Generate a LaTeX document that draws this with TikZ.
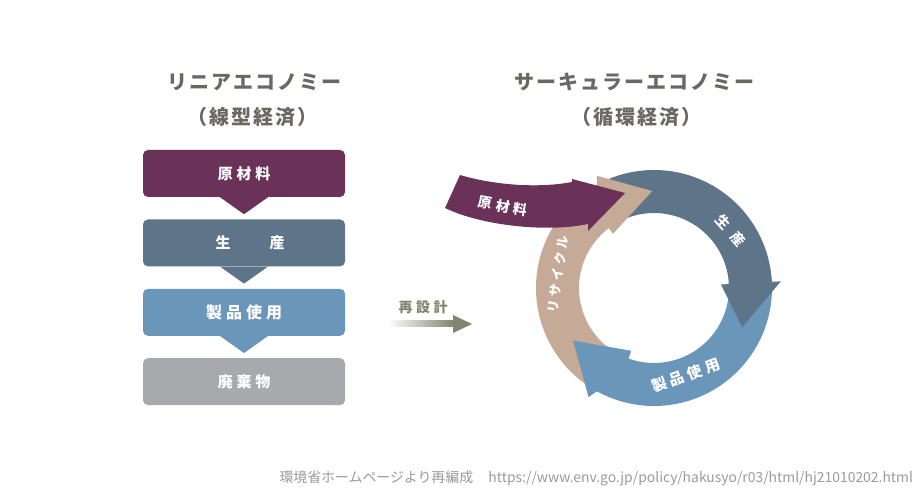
\documentclass[tikz,border=0pt]{standalone}
\usepackage{fontspec}
\setmainfont{Noto Sans CJK JP}
\newfontfamily\jpwide[LetterSpace=25]{Noto Sans CJK JP}
\newfontfamily\jptitle[LetterSpace=10]{Noto Sans CJK JP}
\usetikzlibrary{positioning}
\definecolor{rawpurple}{HTML}{6A3259}
\definecolor{prodslate}{HTML}{5D7489}
\definecolor{useblue}{HTML}{6A96B9}
\definecolor{wastegray}{HTML}{A8A9AD}
\definecolor{recytan}{HTML}{C4AA97}
\definecolor{titlegray}{HTML}{6B6862}
\definecolor{arrowolive}{HTML}{80856E}
\definecolor{footgray}{HTML}{9A9A9A}
\begin{document}
\begin{tikzpicture}[x=1pt, y=-1pt,
	stagebox/.style={rounded corners=5pt, minimum width=202pt, minimum height=47pt, text=white, inner sep=0pt, font=\jpwide\bfseries\fontsize{15}{15}\selectfont},
	title/.style={text=titlegray, font=\jptitle\bfseries\fontsize{20}{24}\selectfont},
	ringtext/.style={text=white, font=\jpwide\bfseries\fontsize{14}{14}\selectfont}]
	\useasboundingbox (0,0) rectangle (922,494);
	\node[title] (lintitle) at (254,82) {リニアエコノミー};
	\node[title] (linsub) at (252,117) {（線型経済）};
	\node[title] (circtitle) at (634,82) {サーキュラーエコノミー};
	\node[title] (circsub) at (636,117) {（循環経済）};
	\node[stagebox, fill=rawpurple] (raw) at (244,173.5) {原材料};
	\node[stagebox, fill=prodslate, below=22pt of raw] (prod) {\hspace{12pt}生\hspace{39pt}産};
	\node[stagebox, fill=useblue, below=22pt of prod, font=\jpwide\bfseries\fontsize{16}{16}\selectfont] (use) {製品使用};
	\node[stagebox, fill=wastegray, below=22pt of use] (waste) {廃棄物};
	\foreach \b/\c in {raw/rawpurple, prod/prodslate, use/useblue}
		\fill[\c] ([xshift=-24pt]\b.south) -- ([yshift=-17pt]\b.south) -- ([xshift=24pt]\b.south) -- cycle;
	\node[text=arrowolive, font=\jpwide\bfseries\fontsize{14}{14}\selectfont] (redesign) at (423,307) {再設計};
	\coordinate (rsstart) at (388,324);
	\coordinate (rsend) at (472,324);
	\shade[left color=white, right color=arrowolive] ([yshift=3pt]rsstart) rectangle ([xshift=-18pt, yshift=-3pt]rsend);
	\fill[arrowolive] ([xshift=-19pt, yshift=9pt]rsend) -- (rsend) -- ([xshift=-19pt, yshift=-9pt]rsend) -- cycle;
	\begin{scope}[shift={(654,288)}, yscale=-1]
		\fill[useblue] (5:118) arc[start angle=5, end angle=-119, radius=118] -- (-121:127) -- (-147:96.5) -- (-110:67) -- (-110:75) arc[start angle=-110, end angle=5, radius=75] -- cycle;
		\fill[prodslate] (116:118) arc[start angle=116, end angle=3, radius=118] -- (3:127) -- (-24:96.5) -- (3:67) -- (3:75) arc[start angle=3, end angle=116, radius=75] -- cycle;
		\fill[recytan] (240:118) arc[start angle=240, end angle=119, radius=118] -- (117:126) -- (91:97) -- (127:68) -- (127:75) arc[start angle=127, end angle=240, radius=75] -- cycle;
		\fill[useblue] (-121:127) -- (-147:96.5) -- (-110:67) -- (-110:80) -- (-119:118) -- cycle;
		\node[ringtext, rotate=-48, font=\bfseries\fontsize{14}{14}\selectfont] (prodlabel) at (37:96) {生\hspace{9pt}産};
		\node[ringtext, rotate=20, font=\jpwide\bfseries\fontsize{15}{15}\selectfont] (uselabel) at (-70:93) {製品使用};
		\node[ringtext, rotate=82, font=\jpwide\bfseries\fontsize{13}{13}\selectfont] (recylabel) at (172:97) {リサイクル};
	\end{scope}
	\fill[rawpurple] (460,175) .. controls (490,184) and (535,189) .. (572,182) -- (572,179) -- (625,193) -- (588,231) -- (588,224) .. controls (545,233) and (480,225) .. (445,208) -- cycle;
	\node[ringtext, rotate=-10] (rawlabel) at (503,206) {原材料};
	\node[anchor=west, text=footgray, font=\fontsize{13.9}{14}\selectfont] (source) at (276,478) {環境省ホームページより再編成\hspace{1.1em}https://www.env.go.jp/policy/hakusyo/r03/html/hj21010202.html};
\end{tikzpicture}
\end{document}
